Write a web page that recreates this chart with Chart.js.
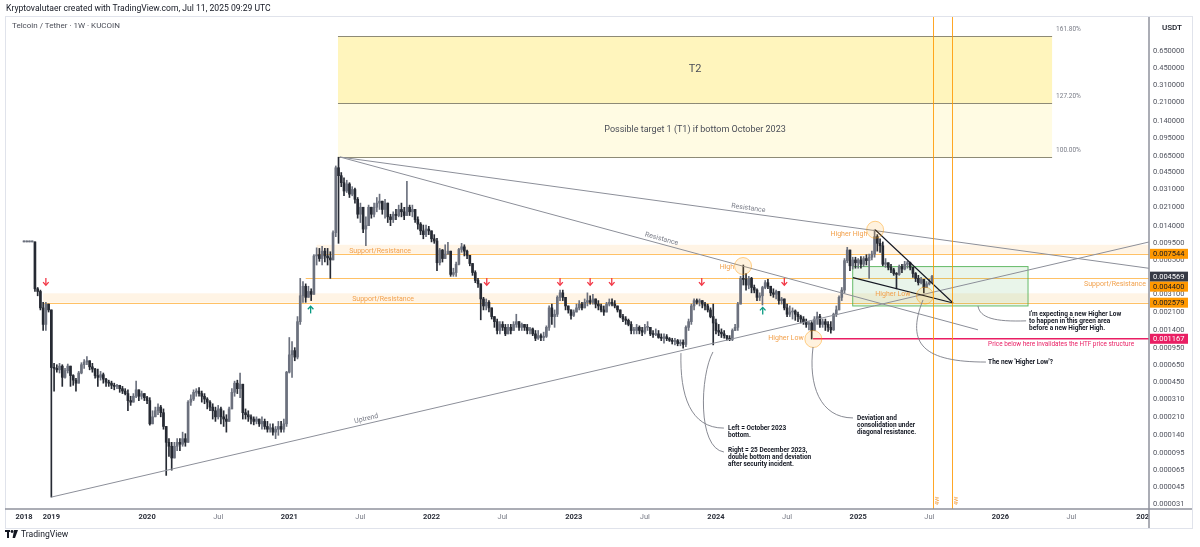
<!DOCTYPE html>
<html>
<head>
<meta charset="utf-8">
<title>Telcoin / Tether 1W</title>
<script src="https://cdn.jsdelivr.net/npm/chart.js@4"></script>
<style>
  body { margin: 0; background: #fff; font-family: Roboto, "Liberation Sans", sans-serif; }
  #wrap { position: relative; width: 1200px; height: 547px; overflow: hidden; }
  #chart { position: absolute; left: 0; top: 0; }
  .txt { position: absolute; white-space: nowrap; }
  #caption { left: 6px; top: 3px; font-size: 8.6px; color: #131722; }
  #title { left: 12px; top: 21px; font-size: 8px; color: #4a4d57; }
  #usdt { left: 1152px; top: 20px; width: 40px; height: 15px; line-height: 15px; text-align: center; font-size: 8px; font-weight: 500; color: #131722; }
  #logo { left: 5px; top: 529px; font-size: 8.6px; color: #131722; display: flex; align-items: center; gap: 3px; }
</style>
</head>
<body>
<div id="wrap">
  <canvas id="chart" width="1200" height="547"></canvas>
  <div class="txt" id="caption">Kryptovalutaer created with TradingView.com, Jul 11, 2025 09:29 UTC</div>
  <div class="txt" id="title">Telcoin / Tether · 1W · KUCOIN</div>
  <div class="txt" id="usdt">USDT</div>
  <div class="txt" id="logo">
    <svg width="13" height="8" viewBox="0 0 13 8"><rect x="0" y="0" width="5" height="2" fill="#131722"/><rect x="2" y="0" width="2" height="8" fill="#131722"/><circle cx="7" cy="1.5" r="1.4" fill="#131722"/><polygon points="9,0 13,0 10,8 7.6,8" fill="#131722"/></svg>
    <span>TradingView</span>
  </div>
</div>
<script>
// weekly candles, bar 0 = first 2018 week on the chart (TradingView bar index)
const closes = [
  0.0098, 0.0098, 0.0098, 0.0098, 0.0035, 0.0033, 0.0023, 0.0016, 0.0025, 0.0022,
  0.00062, 0.00061, 0.00059, 0.00064, 0.00050, 0.00058, 0.00064, 0.00052, 0.00047, 0.00044,
  0.00055, 0.00066, 0.00070, 0.00072, 0.00063, 0.00060, 0.00052, 0.00050, 0.00053, 0.00048,
  0.00045, 0.00044, 0.00042, 0.00041, 0.00042, 0.00039, 0.00037, 0.00035, 0.00030, 0.00029,
  0.00033, 0.00038, 0.00033, 0.00035, 0.00032, 0.00030, 0.00018, 0.00021, 0.00024, 0.00026,
  0.00023, 0.00017, 0.00012, 0.00011, 0.000085, 0.00011, 0.00012, 0.000115, 0.00013, 0.00012,
  0.00029, 0.00031, 0.00036, 0.00037, 0.00035, 0.00033, 0.00031, 0.00029, 0.00026, 0.00024,
  0.00021, 0.00025, 0.00021, 0.00020, 0.00019, 0.00025, 0.00036, 0.00044, 0.00039, 0.00043,
  0.00023, 0.00022, 0.00021, 0.00020, 0.00019, 0.00020, 0.00018, 0.00019, 0.00017, 0.00016,
  0.000165, 0.00015, 0.00016, 0.00017, 0.00016, 0.00018, 0.00056, 0.00082, 0.00090, 0.00078,
  0.0017, 0.0030, 0.0037, 0.0029, 0.0033, 0.0031, 0.0072, 0.0074, 0.0068, 0.0080,
  0.0072, 0.0069, 0.0066, 0.012, 0.050, 0.042, 0.036, 0.030, 0.035, 0.028,
  0.031, 0.025, 0.018, 0.021, 0.013, 0.014, 0.021, 0.018, 0.021, 0.023,
  0.024, 0.020, 0.023, 0.017, 0.016, 0.018, 0.0175, 0.020, 0.019, 0.0175,
  0.021, 0.019, 0.020, 0.016, 0.0145, 0.0125, 0.0115, 0.013, 0.0125, 0.0105,
  0.010, 0.0062, 0.0082, 0.0068, 0.0075, 0.0080, 0.0048, 0.0050, 0.0060, 0.0083,
  0.0088, 0.0080, 0.0073, 0.0061, 0.0050, 0.0042, 0.0039, 0.0028, 0.0024, 0.0026,
  0.0023, 0.0019, 0.0017, 0.0014, 0.0016, 0.0015, 0.0013, 0.0015, 0.0014, 0.0016,
  0.0017, 0.0015, 0.0016, 0.0015, 0.0014, 0.00145, 0.0013, 0.00118, 0.00125, 0.0012,
  0.00123, 0.0015, 0.0023, 0.0019, 0.0020, 0.0029, 0.0032, 0.0029, 0.0024, 0.0022,
  0.00195, 0.0021, 0.0023, 0.0025, 0.0023, 0.0026, 0.0027, 0.0026, 0.0028, 0.0025,
  0.0024, 0.0022, 0.0021, 0.0025, 0.0026, 0.0025, 0.0024, 0.0022, 0.0019, 0.0018,
  0.00175, 0.0016, 0.0014, 0.0014, 0.0015, 0.0014, 0.00135, 0.0015, 0.0015, 0.0013,
  0.00128, 0.0013, 0.0012, 0.00118, 0.00122, 0.00117, 0.00113, 0.0011, 0.00112, 0.00105,
  0.00108, 0.00103, 0.0015, 0.0017, 0.0024, 0.0027, 0.0026, 0.0027, 0.0025, 0.0024,
  0.0022, 0.0019, 0.00165, 0.0014, 0.00135, 0.0013, 0.00125, 0.00118, 0.00115, 0.0014,
  0.0015, 0.0025, 0.0044, 0.0043, 0.0038, 0.0044, 0.0036, 0.0034, 0.0029, 0.0030,
  0.0036, 0.0040, 0.0037, 0.0032, 0.0031, 0.0033, 0.0027, 0.0028, 0.0023, 0.0020,
  0.0021, 0.00215, 0.0020, 0.0019, 0.0018, 0.0017, 0.0016, 0.00165, 0.0014, 0.0018,
  0.0019, 0.0016, 0.0017, 0.0016, 0.0015, 0.00142, 0.0020, 0.0022, 0.0029, 0.0034,
  0.0065, 0.0082, 0.0058, 0.0066, 0.0062, 0.0066, 0.0060, 0.0068, 0.0065, 0.0070,
  0.0075, 0.0110, 0.0095, 0.0090, 0.0060, 0.0062, 0.0056, 0.0053, 0.0049, 0.0048,
  0.0057, 0.0054, 0.0060, 0.0062, 0.0056, 0.0049, 0.0044, 0.0040, 0.0043, 0.0036,
  0.0039, 0.0040, 0.0046
];
const highs = [
  0.0098, 0.0098, 0.0098, 0.0098, 0.0098, 0.0036, 0.0034, 0.0026, 0.0026, 0.0025,
  0.0022, 0.00068, 0.00066, 0.00068, 0.00066, 0.00061, 0.00067, 0.00064, 0.00053, 0.00049,
  0.00057, 0.00069, 0.00074, 0.00079, 0.00072, 0.00068, 0.00061, 0.00060, 0.00057, 0.00055,
  0.00049, 0.00047, 0.00046, 0.00044, 0.00043, 0.00042, 0.00041, 0.00039, 0.00038, 0.00033,
  0.00035, 0.00046, 0.00038, 0.00037, 0.00035, 0.00033, 0.00032, 0.00024, 0.00026, 0.00028,
  0.00027, 0.00025, 0.00017, 0.00013, 0.00012, 0.00012, 0.00013, 0.00013, 0.00015, 0.000145,
  0.00030, 0.00034, 0.00038, 0.00039, 0.00040, 0.00037, 0.00035, 0.00032, 0.00030, 0.00028,
  0.00026, 0.00027, 0.00026, 0.00024, 0.00022, 0.00026, 0.00039, 0.00046, 0.00047, 0.00055,
  0.00043, 0.00025, 0.00024, 0.00022, 0.00021, 0.00021, 0.00020, 0.00021, 0.00020, 0.00019,
  0.00018, 0.00018, 0.00017, 0.00019, 0.00019, 0.00020, 0.00057, 0.0012, 0.0011, 0.00096,
  0.0019, 0.0044, 0.0041, 0.0039, 0.0037, 0.0035, 0.0074, 0.0086, 0.0085, 0.0089,
  0.0085, 0.0085, 0.0079, 0.0125, 0.052, 0.063, 0.045, 0.040, 0.038, 0.036,
  0.033, 0.032, 0.026, 0.023, 0.021, 0.017, 0.022, 0.021, 0.023, 0.026,
  0.028, 0.024, 0.025, 0.023, 0.018, 0.019, 0.020, 0.022, 0.023, 0.021,
  0.037, 0.022, 0.022, 0.020, 0.017, 0.015, 0.0142, 0.0142, 0.0138, 0.0125,
  0.0115, 0.0106, 0.0085, 0.0083, 0.0092, 0.0097, 0.0080, 0.0055, 0.0063, 0.0085,
  0.0095, 0.0092, 0.0082, 0.0073, 0.0061, 0.0052, 0.0044, 0.0039, 0.0029, 0.0028,
  0.0027, 0.0023, 0.0019, 0.0018, 0.0017, 0.0017, 0.0016, 0.0016, 0.0016, 0.0017,
  0.0020, 0.0017, 0.00165, 0.0016, 0.0016, 0.0015, 0.00148, 0.0014, 0.0014, 0.0013,
  0.00135, 0.00155, 0.0024, 0.0025, 0.0022, 0.0030, 0.0034, 0.0034, 0.0029, 0.0024,
  0.0022, 0.0022, 0.0025, 0.0027, 0.0026, 0.0028, 0.0032, 0.0030, 0.0031, 0.0028,
  0.0027, 0.0025, 0.0024, 0.0026, 0.0028, 0.0028, 0.0027, 0.0024, 0.0022, 0.0020,
  0.0019, 0.0018, 0.0017, 0.0015, 0.0016, 0.00155, 0.0015, 0.0016, 0.0017, 0.0015,
  0.0014, 0.00145, 0.0014, 0.0013, 0.0013, 0.00128, 0.0012, 0.00118, 0.00118, 0.00115,
  0.00114, 0.00114, 0.00155, 0.0018, 0.0025, 0.0028, 0.0028, 0.0028, 0.0027, 0.0026,
  0.0025, 0.0023, 0.0025, 0.0018, 0.0016, 0.00145, 0.0014, 0.00125, 0.00125, 0.00145,
  0.0016, 0.0026, 0.0046, 0.0059, 0.0049, 0.0046, 0.0045, 0.0038, 0.0035, 0.0032,
  0.0037, 0.0042, 0.0043, 0.0037, 0.0035, 0.0034, 0.0033, 0.0029, 0.0028, 0.0025,
  0.0024, 0.0023, 0.0022, 0.0021, 0.00196, 0.0019, 0.0018, 0.0017, 0.0017, 0.0019,
  0.0021, 0.0020, 0.0018, 0.0018, 0.0017, 0.0017, 0.00205, 0.0024, 0.0030, 0.0036,
  0.0068, 0.0087, 0.0082, 0.0070, 0.0070, 0.0068, 0.0071, 0.0071, 0.0074, 0.0075,
  0.0080, 0.0128, 0.0115, 0.0105, 0.0098, 0.0068, 0.0062, 0.0060, 0.0055, 0.0050,
  0.0059, 0.0060, 0.0064, 0.0064, 0.0063, 0.0056, 0.0050, 0.0047, 0.0045, 0.0043,
  0.0041, 0.0043, 0.0047
];
const lows = [
  0.0098, 0.0098, 0.0098, 0.0098, 0.0033, 0.0030, 0.0022, 0.0014, 0.0014, 0.0021,
  0.000036, 0.00037, 0.00056, 0.00055, 0.00041, 0.00049, 0.00055, 0.00041, 0.00042, 0.00037,
  0.00044, 0.00054, 0.00061, 0.00066, 0.00059, 0.00056, 0.00049, 0.00041, 0.00047, 0.00044,
  0.00041, 0.00041, 0.00039, 0.00038, 0.00039, 0.00036, 0.00035, 0.00034, 0.00024, 0.00027,
  0.00029, 0.00032, 0.00030, 0.00031, 0.00030, 0.00028, 0.000175, 0.00018, 0.00021, 0.00022,
  0.00021, 0.00016, 0.000058, 0.000088, 0.000065, 0.00009, 0.00010, 0.00010, 0.00011, 0.00011,
  0.00012, 0.00027, 0.00030, 0.00033, 0.00033, 0.00029, 0.00028, 0.00025, 0.00024, 0.00020,
  0.00019, 0.00020, 0.00018, 0.00017, 0.00015, 0.00019, 0.00025, 0.00033, 0.00035, 0.00032,
  0.00020, 0.00020, 0.00019, 0.00018, 0.000176, 0.00018, 0.00017, 0.00016, 0.00016, 0.00015,
  0.00015, 0.00014, 0.00013, 0.00014, 0.00015, 0.00015, 0.00017, 0.00055, 0.00050, 0.00072,
  0.00075, 0.0016, 0.0026, 0.0026, 0.0030, 0.0027, 0.0031, 0.0059, 0.0064, 0.0059,
  0.0063, 0.0059, 0.0044, 0.0066, 0.011, 0.0095, 0.033, 0.027, 0.029, 0.026,
  0.027, 0.023, 0.0165, 0.015, 0.012, 0.009, 0.014, 0.0165, 0.017, 0.019,
  0.020, 0.018, 0.0165, 0.015, 0.014, 0.015, 0.016, 0.017, 0.017, 0.016,
  0.0175, 0.0175, 0.017, 0.015, 0.013, 0.0115, 0.0105, 0.011, 0.0115, 0.0098,
  0.0095, 0.0052, 0.0059, 0.0063, 0.0068, 0.0075, 0.0046, 0.0046, 0.0046, 0.0059,
  0.0078, 0.0072, 0.0068, 0.0058, 0.0047, 0.0040, 0.0036, 0.00177, 0.0022, 0.0022,
  0.0021, 0.0018, 0.0015, 0.0013, 0.0013, 0.0014, 0.00125, 0.0013, 0.0013, 0.0014,
  0.0015, 0.0014, 0.0014, 0.0014, 0.0013, 0.0013, 0.00125, 0.00112, 0.00115, 0.00112,
  0.00112, 0.0012, 0.0014, 0.0016, 0.0015, 0.0019, 0.0027, 0.0027, 0.0022, 0.00205,
  0.0018, 0.0019, 0.0021, 0.0022, 0.0022, 0.0024, 0.0024, 0.0025, 0.0025, 0.0023,
  0.0022, 0.0021, 0.00195, 0.0021, 0.0024, 0.0024, 0.0023, 0.0021, 0.00185, 0.0017,
  0.0016, 0.00155, 0.0013, 0.0013, 0.0013, 0.0013, 0.00125, 0.0013, 0.0014, 0.00125,
  0.0012, 0.00125, 0.00118, 0.00112, 0.00106, 0.00112, 0.0011, 0.00104, 0.00102, 0.0010,
  0.0010, 0.00095, 0.00098, 0.0014, 0.0016, 0.0022, 0.0025, 0.0024, 0.0023, 0.0022,
  0.0021, 0.00185, 0.00102, 0.0013, 0.00125, 0.0012, 0.00118, 0.00113, 0.00112, 0.00112,
  0.0014, 0.0014, 0.0025, 0.0038, 0.0034, 0.0035, 0.0032, 0.0032, 0.0027, 0.0027,
  0.00245, 0.0035, 0.0035, 0.0030, 0.0029, 0.0028, 0.0025, 0.0025, 0.0022, 0.0019,
  0.0019, 0.0018, 0.00175, 0.0017, 0.00165, 0.0016, 0.0015, 0.00142, 0.00116, 0.0014,
  0.0016, 0.0015, 0.0015, 0.0014, 0.00137, 0.00132, 0.0014, 0.0019, 0.0022, 0.0027,
  0.0032, 0.0062, 0.0052, 0.0054, 0.0055, 0.0055, 0.0055, 0.0057, 0.0059, 0.0044,
  0.0066, 0.0070, 0.0080, 0.0078, 0.0058, 0.0056, 0.0053, 0.0050, 0.0047, 0.0035,
  0.0047, 0.0050, 0.0053, 0.0055, 0.0053, 0.0045, 0.0041, 0.0038, 0.0039, 0.0032,
  0.0036, 0.0038, 0.0040
];

// time axis (bar index -> label) and price axis ticks
const tickBars = [0, 10, 45, 71, 97, 123, 149, 175, 201, 227, 253, 279, 305, 331, 357, 383, 409];
const tickLabels = ['2018', '2019', '2020', 'Jul', '2021', 'Jul', '2022', 'Jul', '2023', 'Jul', '2024', 'Jul', '2025', 'Jul', '2026', 'Jul', '202'];
const priceTicks = [0.65, 0.45, 0.31, 0.21, 0.14, 0.095, 0.065, 0.045, 0.031, 0.021, 0.014, 0.0095, 0.0065, 0.0045,
  0.0031, 0.0021, 0.0014, 0.00095, 0.00065, 0.00045, 0.00031, 0.00021, 0.00014, 0.000095, 0.000065, 0.000045, 0.000031];

// drawings, all in [bar index, price]
const fibLevels = [0.904, 0.207, 0.0633];
const fibLabels = ['161.80%', '127.20%', '100.00%'];
const fibRange = [114.8, 375.9];
const srBands = [[107, 0.0092, 0.007544], [7, 0.00317, 0.002579]];
const srLines = [[107, 0.007544], [103, 0.0044], [7, 0.002579]];
const invalidLine = [288.5, 0.001167];
const greenBox = [303, 367.1, 0.0057, 0.0024];
const trendLines = [
  { a: [10, 0.000036], b: [411.3, 0.00978], label: 'Uptrend', t: 0.288 },
  { a: [115.5, 0.0633], b: [411.3, 0.00549], label: 'Resistance', t: 0.504 },
  { a: [115.5, 0.0633], b: [348.8, 0.00142], label: 'Resistance', t: 0.502 }
];
const wedgeLines = [[[311.2, 0.0128], [339.7, 0.00256]], [[303.1, 0.00447], [339.7, 0.00256]]];
const circles = [[262.9, 0.00577], [311.2, 0.0128], [288.6, 0.00116], [329.4, 0.00301]];
const orangeTexts = [
  ['High', 257, 0.00565], ['Higher High', 301.6, 0.01167], ['Higher Low', 278.6, 0.00119], ['Higher Low', 317.7, 0.00312],
  ['Support/Resistance', 130.2, 0.00803], ['Support/Resistance', 131.3, 0.00277], ['Support/Resistance', 398.9, 0.00386]
];
const downArrows = [8, 169.2, 196, 207, 214.9, 247.8, 278];
const upArrows = [[104.8, 0.0022], [270.1, 0.00215]];
const curves = [
  [[240.2, 0.000852], [239.8, 0.00034], [243.5, 0.000164], [255.9, 0.000164]],
  [[251.9, 0.000873], [247.2, 0.000526], [246.1, 0.000106], [255.9, 0.000097]],
  [[288.5, 0.000975], [286.7, 0.000423], [291.0, 0.000205], [303.1, 0.000205]],
  [[328.7, 0.00274], [322.1, 0.00102], [329.4, 0.0007], [351.7, 0.0007]],
  [[348.8, 0.0024], [349.5, 0.00184], [355.0, 0.00169], [366.4, 0.00173]]
];
const notes = [
  [257.4, 0.000164, ['Left = October 2023', 'bottom.']],
  [257.4, 0.000101, ['Right = 25 December 2023,', 'double bottom and deviation', 'after security incident.']],
  [304.6, 0.000205, ['Deviation and', 'consolidation under', 'diagonal resistance.']],
  [367.5, 0.00201, ["I'm expecting a new Higher Low", 'to happen in this green area', 'before a new Higher High.']],
  [352.5, 0.0007, ["The new 'Higher Low'?"]]
];
const invalidNote = [352.5, 0.00104, 'Price below here invalidates the HTF price structure'];
const cycleLines = [332.2, 339.2];
const axisMarks = [
  [0.007544, '#ff9800', '#131722'], [0.004569, '#363a45', '#ffffff'], [0.0044, '#ff9800', '#131722'],
  [0.002579, '#ff9800', '#131722'], [0.001167, '#e91e63', '#ffffff']
];

const UP = '#6c717e', DOWN = '#262a33';
const FONT = 'Roboto, "Liberation Sans", sans-serif';

const opens = closes.map((c, i) => i ? closes[i - 1] : c);
const wickData = closes.map((c, i) => ({
  x: i, y: [Math.min(lows[i], opens[i], c), Math.max(highs[i], opens[i], c)], up: c >= opens[i]
}));
const bodyData = closes.map((c, i) => ({
  x: i, y: [Math.min(opens[i], c), Math.max(opens[i], c)], up: c >= opens[i]
}));
const candleColor = ctx => (ctx.raw && ctx.raw.up ? UP : DOWN);

const overlay = {
  id: 'overlay',
  beforeDatasetsDraw(chart) {
    const { ctx, chartArea: a, scales: { x, y } } = chart;
    const px = v => x.getPixelForValue(v), py = v => y.getPixelForValue(v);
    ctx.save();
    ctx.beginPath(); ctx.rect(a.left, a.top, a.width, a.height); ctx.clip();

    // fib target boxes
    const fx0 = px(fibRange[0]), fx1 = px(fibRange[1]);
    const fy = fibLevels.map(py);
    ctx.fillStyle = '#fff5bd'; ctx.fillRect(fx0, fy[0], fx1 - fx0, fy[1] - fy[0]);
    ctx.fillStyle = '#fffbe3'; ctx.fillRect(fx0, fy[1], fx1 - fx0, fy[2] - fy[1]);
    ctx.strokeStyle = '#8d8a76'; ctx.lineWidth = 1;
    fy.forEach(v => { ctx.beginPath(); ctx.moveTo(fx0, Math.round(v) + 0.5); ctx.lineTo(fx1, Math.round(v) + 0.5); ctx.stroke(); });
    ctx.fillStyle = '#4a4d57'; ctx.textAlign = 'center'; ctx.textBaseline = 'middle';
    ctx.font = '11px ' + FONT; ctx.fillText('T2', (fx0 + fx1) / 2, (fy[0] + fy[1]) / 2);
    ctx.font = '9px ' + FONT; ctx.fillText('Possible target 1 (T1) if bottom October 2023', (fx0 + fx1) / 2, (fy[1] + fy[2]) / 2);
    ctx.fillStyle = '#787b86'; ctx.textAlign = 'left'; ctx.textBaseline = 'bottom'; ctx.font = '6.5px ' + FONT;
    fibLabels.forEach((t, k) => ctx.fillText(t, fx1 + 4, fy[k] - 3));

    // support / resistance zones
    ctx.fillStyle = 'rgba(255,152,0,0.1)';
    srBands.forEach(([from, top, bot]) => ctx.fillRect(px(from), py(top), a.right - px(from), py(bot) - py(top)));
    ctx.strokeStyle = 'rgba(255,152,0,0.6)'; ctx.lineWidth = 1;
    srLines.forEach(([from, p]) => { const v = Math.round(py(p)) + 0.5; ctx.beginPath(); ctx.moveTo(px(from), v); ctx.lineTo(a.right, v); ctx.stroke(); });

    // green area
    const [g0, g1, gt, gb] = greenBox;
    ctx.fillStyle = 'rgba(76,175,80,0.12)';
    ctx.fillRect(px(g0), py(gt), px(g1) - px(g0), py(gb) - py(gt));
    ctx.strokeStyle = 'rgba(76,175,80,0.85)';
    ctx.strokeRect(px(g0), py(gt), px(g1) - px(g0), py(gb) - py(gt));

    // invalidation level
    ctx.strokeStyle = '#e91e63'; ctx.lineWidth = 1.4;
    ctx.beginPath(); ctx.moveTo(px(invalidLine[0]), py(invalidLine[1])); ctx.lineTo(a.right, py(invalidLine[1])); ctx.stroke();
    ctx.restore();
  },
  afterDatasetsDraw(chart) {
    const { ctx, chartArea: a, scales: { x, y } } = chart;
    const px = v => x.getPixelForValue(v), py = v => y.getPixelForValue(v);
    ctx.save();
    ctx.beginPath(); ctx.rect(a.left, a.top, a.width, a.height); ctx.clip();

    // trend lines
    ctx.strokeStyle = '#8c8f99'; ctx.lineWidth = 1;
    trendLines.forEach(l => {
      const x0 = px(l.a[0]), y0 = py(l.a[1]), x1 = px(l.b[0]), y1 = py(l.b[1]);
      ctx.beginPath(); ctx.moveTo(x0, y0); ctx.lineTo(x1, y1); ctx.stroke();
      ctx.save();
      ctx.translate(x0 + (x1 - x0) * l.t, y0 + (y1 - y0) * l.t);
      ctx.rotate(Math.atan2(y1 - y0, x1 - x0));
      ctx.fillStyle = '#787b86'; ctx.font = '7px ' + FONT; ctx.textAlign = 'center'; ctx.textBaseline = 'bottom';
      ctx.fillText(l.label, 0, -1.5);
      ctx.restore();
    });
    ctx.strokeStyle = '#131722'; ctx.lineWidth = 1.1;
    wedgeLines.forEach(([p, q]) => { ctx.beginPath(); ctx.moveTo(px(p[0]), py(p[1])); ctx.lineTo(px(q[0]), py(q[1])); ctx.stroke(); });

    // time cycle lines
    ctx.strokeStyle = 'rgba(255,152,0,0.85)'; ctx.lineWidth = 1;
    cycleLines.forEach(b => {
      const v = Math.round(px(b)) + 0.5;
      ctx.beginPath(); ctx.moveTo(v, a.top); ctx.lineTo(v, a.bottom); ctx.stroke();
      ctx.save(); ctx.translate(v + 4, a.bottom - 8); ctx.rotate(-Math.PI / 2);
      ctx.fillStyle = '#f5a54a'; ctx.font = '6px ' + FONT; ctx.textAlign = 'center'; ctx.textBaseline = 'middle';
      ctx.fillText('4W', 0, 0); ctx.restore();
    });

    // highlight circles
    circles.forEach(([b, p]) => {
      ctx.beginPath(); ctx.arc(px(b), py(p), 8.5, 0, Math.PI * 2);
      ctx.fillStyle = 'rgba(255,152,0,0.13)'; ctx.fill();
      ctx.strokeStyle = 'rgba(255,152,0,0.45)'; ctx.lineWidth = 1; ctx.stroke();
    });

    // orange labels
    ctx.fillStyle = '#f2a14c'; ctx.font = '7px ' + FONT; ctx.textAlign = 'center'; ctx.textBaseline = 'middle';
    orangeTexts.forEach(([t, b, p]) => ctx.fillText(t, px(b), py(p)));

    // arrows
    const arrow = (cx, cy, dir, color) => {
      ctx.strokeStyle = color; ctx.lineWidth = 1.3;
      ctx.beginPath(); ctx.moveTo(cx, cy - 3.5 * dir); ctx.lineTo(cx, cy + 3 * dir); ctx.stroke();
      ctx.beginPath(); ctx.moveTo(cx - 2.8, cy + 0.6 * dir); ctx.lineTo(cx, cy + 3.6 * dir); ctx.lineTo(cx + 2.8, cy + 0.6 * dir); ctx.stroke();
    };
    downArrows.forEach(b => arrow(px(b), py(0.0041), 1, '#f23645'));
    upArrows.forEach(([b, p]) => arrow(px(b), py(p), -1, '#089981'));

    // callout curves
    ctx.strokeStyle = '#7a7d87'; ctx.lineWidth = 0.9;
    curves.forEach(c => {
      const q = c.map(([b, p]) => [px(b), py(p)]);
      ctx.beginPath(); ctx.moveTo(q[0][0], q[0][1]);
      ctx.bezierCurveTo(q[1][0], q[1][1], q[2][0], q[2][1], q[3][0], q[3][1]);
      ctx.stroke();
    });

    // notes
    ctx.fillStyle = '#131722'; ctx.font = 'bold 6.5px ' + FONT; ctx.textAlign = 'left'; ctx.textBaseline = 'middle';
    notes.forEach(([b, p, lines]) => lines.forEach((t, k) => ctx.fillText(t, px(b), py(p) + k * 7)));
    ctx.fillStyle = '#e91e63'; ctx.font = '6.4px ' + FONT;
    ctx.fillText(invalidNote[2], px(invalidNote[0]), py(invalidNote[1]));
    ctx.restore();
  },
  afterDraw(chart) {
    const { ctx, chartArea: a, scales: { y } } = chart;
    ctx.save();
    // frame and axis lines
    ctx.strokeStyle = '#e0e3eb'; ctx.lineWidth = 1;
    ctx.strokeRect(5.5, 16.5, 1187, 512);
    ctx.strokeStyle = '#8f929c'; ctx.lineWidth = 1.5;
    ctx.beginPath(); ctx.moveTo(a.left - 1, a.bottom); ctx.lineTo(1192, a.bottom); ctx.stroke();
    ctx.beginPath(); ctx.moveTo(a.right, a.top); ctx.lineTo(a.right, 528); ctx.stroke();
    // price labels on the axis
    const items = axisMarks.map(m => ({ p: m[0], bg: m[1], fg: m[2], yy: y.getPixelForValue(m[0]) })).sort((s, t) => s.yy - t.yy);
    for (let k = 1; k < items.length; k++) if (items[k].yy - items[k - 1].yy < 10) items[k].yy = items[k - 1].yy + 10;
    ctx.font = '7.5px ' + FONT; ctx.textAlign = 'left'; ctx.textBaseline = 'middle';
    items.forEach(m => {
      ctx.fillStyle = m.bg; ctx.fillRect(a.right + 1, m.yy - 5, 38, 10);
      ctx.fillStyle = m.fg; ctx.fillText(m.p.toFixed(6), a.right + 4, m.yy + 0.5);
    });
    ctx.restore();
  }
};

new Chart(document.getElementById('chart'), {
  type: 'bar',
  data: {
    datasets: [
      { label: 'wick', data: wickData, barThickness: 1, grouped: false, minBarLength: 1, backgroundColor: candleColor, borderWidth: 0 },
      { label: 'body', data: bodyData, barThickness: 2, grouped: false, minBarLength: 1, backgroundColor: candleColor, borderWidth: 0 }
    ]
  },
  options: {
    responsive: false,
    animation: false,
    layout: { padding: { left: 6, top: 17, right: 0, bottom: 0 } },
    plugins: { legend: { display: false }, tooltip: { enabled: false } },
    scales: {
      x: {
        type: 'linear',
        offset: false,
        min: -6.58,
        max: 411.33,
        grid: { display: false, drawTicks: false, offset: false },
        border: { display: false },
        afterBuildTicks: s => { s.ticks = tickBars.map(v => ({ value: v })); },
        afterFit: s => { s.height = 38; },
        ticks: {
          autoSkip: false,
          maxRotation: 0,
          padding: 4,
          callback: (v, i) => tickLabels[i],
          font: c => ({ family: FONT, size: 7.5, weight: c.tick && c.tick.label === 'Jul' ? 'normal' : 'bold' }),
          color: c => (c.tick && c.tick.label === 'Jul' ? '#787b86' : '#2a2e39')
        }
      },
      y: {
        type: 'logarithmic',
        position: 'right',
        min: 0.00002772,
        max: 1.372,
        grid: { display: false, drawTicks: false },
        border: { display: false },
        afterBuildTicks: s => { s.ticks = priceTicks.map(v => ({ value: v })); },
        afterFit: s => { s.width = 51; },
        ticks: {
          padding: 4,
          callback: v => Number(v).toFixed(6),
          font: { family: FONT, size: 7.5 },
          color: '#50535e'
        }
      }
    }
  },
  plugins: [overlay]
});
</script>
</body>
</html>
